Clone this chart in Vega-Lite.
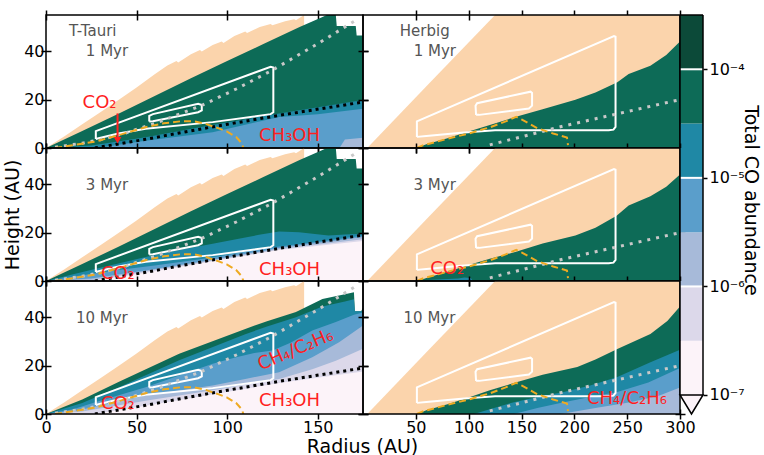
{
  "$schema": "https://vega.github.io/schema/vega-lite/v6.json",
  "background": "white",
  "padding": {"left": 2, "top": 8, "right": 4, "bottom": 0},
  "config": {
    "font": "DejaVu Sans",
    "view": {"stroke": "black", "strokeWidth": 1.5},
    "style": {"cell": {"strokeForeground": true}},
    "mark": {"invalid": "filter"},
    "axis": {
      "domain": false, "grid": false, "tickSize": 10, "tickWidth": 1.5, "tickColor": "black", "offset": -5,
      "labelFont": "DejaVu Sans", "labelFontSize": 16, "labelColor": "black", "labelPadding": 1,
      "labelFlush": false, "labelOverlap": false,
      "titleFont": "DejaVu Sans", "titleFontSize": 19, "titleFontWeight": "normal", "titleColor": "black", "zindex": 1
    },
    "axisX": {"labelPadding": 0},
    "axisY": {"labelPadding": -3}
  },
  "datasets": {
    "peL": [{"r":0,"h":0},{"r":10,"h":4.8},{"r":20,"h":9.8},{"r":30,"h":14.8},{"r":40,"h":19.8},{"r":50,"h":25},{"r":60,"h":30.5},{"r":67,"h":34.1},{"r":72,"h":36},{"r":73,"h":35.4},{"r":80,"h":38.8},{"r":85,"h":40.5},{"r":86,"h":39.9},{"r":92,"h":42.6},{"r":97,"h":44},{"r":98,"h":43.4},{"r":104,"h":46.3},{"r":110,"h":48.2},{"r":111,"h":47.6},{"r":118,"h":50},{"r":124,"h":51.3},{"r":125,"h":50.8},{"r":132,"h":52.4},{"r":137,"h":53.2},{"r":138,"h":52.8},{"r":141,"h":54.3},{"r":142.5,"h":55}],
    "peR": [{"r":4,"h":0},{"r":60,"h":25.5},{"r":125,"h":55},{"r":300,"h":55}],
    "gL": [{"r":0,"h":0},{"r":20,"h":7},{"r":40,"h":14.2},{"r":60,"h":21.5},{"r":80,"h":28.8},{"r":100,"h":36},{"r":120,"h":43},{"r":140,"h":50},{"r":152,"h":54},{"r":155,"h":55},{"r":160,"h":55},{"r":160.5,"h":50.5},{"r":171,"h":50.5},{"r":171.5,"h":46.5},{"r":175,"h":46.5}],
    "L1t": [{"r":0,"h":0},{"r":25,"h":1},{"r":55,"h":4.4},{"r":90,"h":9.3},{"r":128.7,"h":14.3},{"r":175,"h":19.8}],
    "L1b": [{"r":28,"h":0},{"r":55,"h":3},{"r":92,"h":6.5},{"r":128.7,"h":12.8},{"r":150,"h":14},{"r":175,"h":16.2}],
    "L1l": [{"r":162,"h":0},{"r":165,"h":3.5},{"r":175,"h":4.2}],
    "L2t": [{"r":0,"h":0},{"r":15,"h":2.8},{"r":27.6,"h":5.1},{"r":55,"h":9.9},{"r":75,"h":13},{"r":92,"h":15.4},{"r":110,"h":18},{"r":117.6,"h":19.1},{"r":128.7,"h":20.5},{"r":139.7,"h":20.2},{"r":156,"h":18.8},{"r":165,"h":19.2},{"r":175,"h":19.5}],
    "L2b": [{"r":0,"h":0},{"r":20,"h":2.4},{"r":40,"h":4.6},{"r":60,"h":6.4},{"r":90,"h":9.5},{"r":120,"h":13.4},{"r":150,"h":16.2},{"r":175,"h":18.8}],
    "L2l": [{"r":0,"h":0},{"r":25,"h":1},{"r":55,"h":4.3},{"r":90,"h":8.6},{"r":128.7,"h":13.6},{"r":175,"h":18.2}],
    "L2p": [{"r":0,"h":0},{"r":26,"h":0.5},{"r":55,"h":3.9},{"r":90,"h":8.2},{"r":128.7,"h":13.1},{"r":175,"h":17.3}],
    "L2v": [{"r":0,"h":0},{"r":27,"h":0.2},{"r":55,"h":3.4},{"r":90,"h":7.9},{"r":128.7,"h":12.8},{"r":175,"h":16.5}],
    "L3g": [{"r":0,"h":0},{"r":20,"h":6},{"r":40,"h":13.2},{"r":73.5,"h":24.9},{"r":110,"h":35.2},{"r":122,"h":38.4},{"r":138,"h":42.2},{"r":152.6,"h":47.6},{"r":165,"h":49.5},{"r":170,"h":50.3},{"r":170.5,"h":42.5},{"r":174,"h":42.5},{"r":175,"h":44}],
    "L3t": [{"r":0,"h":0},{"r":20,"h":4.5},{"r":40,"h":11},{"r":73.5,"h":22.2},{"r":110,"h":33},{"r":122,"h":36.2},{"r":138,"h":40},{"r":152.6,"h":44.5},{"r":165,"h":46.5},{"r":170,"h":47.5},{"r":170.5,"h":42.5},{"r":175,"h":42.5}],
    "L3b": [{"r":0,"h":0},{"r":15,"h":2},{"r":27.6,"h":5},{"r":55,"h":11.1},{"r":73.5,"h":15.9},{"r":92,"h":20.8},{"r":105,"h":23.5},{"r":115,"h":25.2},{"r":125,"h":26.3},{"r":135,"h":29.5},{"r":147,"h":34.5},{"r":160,"h":38},{"r":170,"h":41},{"r":175,"h":42}],
    "L3l": [{"r":0,"h":0},{"r":15,"h":1},{"r":55,"h":7.7},{"r":92,"h":11.8},{"r":110,"h":14.5},{"r":128.7,"h":17.3},{"r":147,"h":23.5},{"r":161.8,"h":29.7},{"r":175,"h":36.6}],
    "L3p": [{"r":0,"h":0},{"r":20,"h":1},{"r":55,"h":5.5},{"r":92,"h":9.8},{"r":128.7,"h":14.5},{"r":147,"h":18.5},{"r":160,"h":22},{"r":175,"h":27}],
    "L3v": [{"r":0,"h":0},{"r":27,"h":0},{"r":55,"h":3.4},{"r":90,"h":7.9},{"r":128.7,"h":12.8},{"r":175,"h":17.6}],
    "R1g": [{"r":50,"h":0},{"r":60,"h":1.5},{"r":80,"h":4},{"r":100,"h":6.8},{"r":120,"h":9.5},{"r":144,"h":12.8},{"r":170,"h":16},{"r":201,"h":20},{"r":220,"h":23},{"r":240.7,"h":27.2},{"r":251.4,"h":30.6},{"r":272,"h":34},{"r":287,"h":38.5},{"r":300,"h":44}],
    "R2g": [{"r":52,"h":0},{"r":60,"h":1.2},{"r":80,"h":3.8},{"r":100,"h":6.6},{"r":120,"h":9.2},{"r":144,"h":12},{"r":170,"h":15.5},{"r":201,"h":18.8},{"r":220,"h":22},{"r":240,"h":27},{"r":251.4,"h":31.2},{"r":272,"h":35},{"r":287,"h":39},{"r":300,"h":44}],
    "R2t": [{"r":52,"h":0},{"r":60,"h":0.4},{"r":90,"h":1},{"r":96,"h":1.4},{"r":102,"h":1.2},{"r":104,"h":0}],
    "R3g": [{"r":51,"h":0},{"r":60,"h":1.5},{"r":80,"h":4},{"r":100,"h":6.8},{"r":120,"h":9.8},{"r":146,"h":13.2},{"r":170,"h":16.2},{"r":202.8,"h":19.4},{"r":220,"h":22.5},{"r":240.7,"h":26.9},{"r":272,"h":33.1},{"r":288,"h":38.5},{"r":300,"h":44.5}],
    "R3t": [{"r":105,"h":0},{"r":120,"h":2},{"r":142.8,"h":4.9},{"r":165,"h":7},{"r":190,"h":9.1},{"r":215,"h":11.8},{"r":240.7,"h":15.3},{"r":272,"h":21.4},{"r":300,"h":26.6}],
    "R3b": [{"r":142.8,"h":0},{"r":165,"h":2.5},{"r":190,"h":4.9},{"r":215,"h":7},{"r":240.7,"h":9.1},{"r":270,"h":13},{"r":300,"h":19}],
    "R3l": [{"r":187,"h":0},{"r":220,"h":2.5},{"r":253,"h":4.9},{"r":280,"h":7.5},{"r":300,"h":11}],
    "greyL": [{"r":5,"h":0.3},{"r":20,"h":2},{"r":30,"h":3.4},{"r":44,"h":6.2},{"r":61,"h":10.4},{"r":86,"h":17.6},{"r":105,"h":24.4},{"r":124,"h":31.8},{"r":150,"h":43.1},{"r":172,"h":53.3}],
    "blackL": [{"r":27,"h":0},{"r":55,"h":3.6},{"r":90,"h":8.5},{"r":128.7,"h":13.5},{"r":175,"h":19}],
    "orangeL": [{"r":5,"h":0},{"r":15,"h":1.2},{"r":27.6,"h":2.7},{"r":40,"h":5.3},{"r":55,"h":8.6},{"r":65,"h":10.2},{"r":75,"h":11.1},{"r":82,"h":11},{"r":88,"h":10},{"r":95,"h":8.2},{"r":100,"h":6.8},{"r":105,"h":4.5},{"r":108,"h":2},{"r":109,"h":0}],
    "polyL": [
      {"s":"o","i":0,"r":27.5,"h":3.7},{"s":"o","i":1,"r":27.5,"h":7},{"s":"o","i":2,"r":124,"h":33.6},{"s":"o","i":3,"r":125.5,"h":33.3},{"s":"o","i":4,"r":125.5,"h":14.8},{"s":"o","i":5,"r":124,"h":14},{"s":"o","i":6,"r":92,"h":10.7},{"s":"o","i":7,"r":55,"h":8},{"s":"o","i":8,"r":40,"h":6},{"s":"o","i":9,"r":29,"h":4},{"s":"o","i":10,"r":27.5,"h":3.7},
      {"s":"n","i":0,"r":57,"h":11},{"s":"n","i":1,"r":57,"h":13.3},{"s":"n","i":2,"r":59,"h":14},{"s":"n","i":3,"r":84,"h":18.3},{"s":"n","i":4,"r":86,"h":17.8},{"s":"n","i":5,"r":86,"h":15.6},{"s":"n","i":6,"r":84,"h":14.8},{"s":"n","i":7,"r":59,"h":11.1},{"s":"n","i":8,"r":57,"h":11}
    ],
    "greyR": [{"r":120,"h":1.3},{"r":190,"h":9.1},{"r":300,"h":20}],
    "orangeR": [{"r":51,"h":0},{"r":56,"h":1},{"r":80,"h":3.8},{"r":100,"h":6},{"r":121,"h":8.7},{"r":135,"h":11},{"r":145,"h":12.9},{"r":150,"h":11.8},{"r":165,"h":8.2},{"r":180,"h":6},{"r":193,"h":4.3},{"r":194,"h":1.2}],
    "polyR": [
      {"s":"o","i":0,"r":51,"h":4.6},{"s":"o","i":1,"r":51,"h":11},{"s":"o","i":2,"r":237.5,"h":46.3},{"s":"o","i":3,"r":239,"h":46},{"s":"o","i":4,"r":239,"h":8.7},{"s":"o","i":5,"r":237,"h":7.6},{"s":"o","i":6,"r":232.5,"h":7.3},{"s":"o","i":7,"r":125,"h":7.3},{"s":"o","i":8,"r":93,"h":6.3},{"s":"o","i":9,"r":60,"h":5},{"s":"o","i":10,"r":51,"h":4.6},
      {"s":"n","i":0,"r":107,"h":13.7},{"s":"n","i":1,"r":106.5,"h":17.5},{"s":"n","i":2,"r":108,"h":18.5},{"s":"n","i":3,"r":158.6,"h":23.3},{"s":"n","i":4,"r":160,"h":22.8},{"s":"n","i":5,"r":160,"h":17.5},{"s":"n","i":6,"r":157,"h":16.3},{"s":"n","i":7,"r":110,"h":13.7},{"s":"n","i":8,"r":107,"h":13.7}
    ],
    "cbar": [
      {"k":"c1","lo":1e-7,"hi":3.1623e-7},{"k":"c2","lo":3.1623e-7,"hi":1e-6},
      {"k":"c3","lo":1e-6,"hi":3.1623e-6},{"k":"c4","lo":3.1623e-6,"hi":1e-5},
      {"k":"c5","lo":1e-5,"hi":3.1623e-5},{"k":"c6","lo":3.1623e-5,"hi":1e-4},
      {"k":"c7","lo":1e-4,"hi":3.1623e-4}
    ]
  },
  "columns": 3,
  "spacing": 0,
  "bounds": "flush",
  "concat": [
    {
      "width": 317, "height": 133,
      "encoding": {"x": {"field": "r", "type": "quantitative", "scale": {"domain": [0, 175], "nice": false, "zero": false}, "axis": null}},
      "resolve": {"axis": {"x": "independent", "y": "independent"}},
      "layer": [
        {"data": {"name": "peL"}, "mark": {"type": "area", "color": "#fbd4ac", "clip": true},
         "encoding": {"x": {"field": "r", "type": "quantitative", "scale": {"domain": [0, 175], "nice": false, "zero": false}, "axis": {"orient": "bottom", "values": [0, 50, 100, 150], "labels": false, "title": null}},
                      "y": {"field": "h", "type": "quantitative", "scale": {"domain": [0, 55], "nice": false, "zero": false}, "axis": {"orient": "left", "values": [0, 20, 40], "title": null}}}},
        {"data": {"name": "gL"}, "mark": {"type": "area", "color": "#0d6b57", "clip": true},
         "encoding": {"x": {"field": "r", "type": "quantitative", "axis": {"orient": "top", "values": [0, 50, 100, 150], "labels": false, "title": null}},
                      "y": {"field": "h", "type": "quantitative", "axis": {"orient": "right", "values": [0, 20, 40], "labels": false, "title": null}}}},
        {"data": {"name": "L1t"}, "mark": {"type": "area", "color": "#1f88a5", "clip": true}, "encoding": {"y": {"field": "h", "type": "quantitative", "axis": null}}},
        {"data": {"name": "L1b"}, "mark": {"type": "area", "color": "#5a9ecb", "clip": true}, "encoding": {"y": {"field": "h", "type": "quantitative", "axis": null}}},
        {"data": {"name": "L1l"}, "mark": {"type": "area", "color": "#a7bad9", "clip": true}, "encoding": {"y": {"field": "h", "type": "quantitative", "axis": null}}},
        {"data": {"name": "polyL"}, "mark": {"type": "line", "color": "white", "strokeWidth": 2, "clip": true}, "encoding": {"y": {"field": "h", "type": "quantitative", "axis": null}, "detail": {"field": "s"}, "order": {"field": "i", "type": "quantitative"}}},
        {"data": {"name": "greyL"}, "mark": {"type": "line", "color": "#c8c8c8", "strokeWidth": 3, "strokeDash": [3, 6], "clip": true}, "encoding": {"y": {"field": "h", "type": "quantitative", "axis": null}}},
        {"data": {"name": "blackL"}, "mark": {"type": "line", "color": "black", "strokeWidth": 3, "strokeDash": [3, 4], "clip": true}, "encoding": {"y": {"field": "h", "type": "quantitative", "axis": null}}},
        {"data": {"name": "orangeL"}, "mark": {"type": "line", "color": "#eeaa22", "strokeWidth": 2, "strokeDash": [7, 4], "clip": true}, "encoding": {"y": {"field": "h", "type": "quantitative", "axis": null}}},
        {"data": {"values": [{"r": 12.7, "h": 48.2, "t": "T-Tauri"}, {"r": 22, "h": 40, "t": "1 Myr"}]},
         "mark": {"type": "text", "align": "left", "baseline": "middle", "fontSize": 15, "color": "#555555", "clip": true},
         "encoding": {"y": {"field": "h", "type": "quantitative", "axis": null}, "text": {"field": "t"}}},
        {"data": {"values": [{"r": 20.2, "h": 16.5, "t": "CO₂"}, {"r": 117.6, "h": 2.8, "t": "CH₃OH"}]},
         "mark": {"type": "text", "align": "left", "baseline": "alphabetic", "fontSize": 18, "color": "#ff1f1f", "clip": true},
         "encoding": {"y": {"field": "h", "type": "quantitative", "axis": null}, "text": {"field": "t"}}},
        {"data": {"values": [{"r": 39.5, "h": 14.3, "h2": 4.5}]},
         "mark": {"type": "rule", "color": "#ff1f1f", "strokeWidth": 2},
         "encoding": {"y": {"field": "h", "type": "quantitative", "axis": null}, "y2": {"field": "h2"}}},
        {"data": {"values": [{"r": 39.5, "h": 3.2}]},
         "mark": {"type": "point", "shape": "triangle-down", "size": 60, "filled": true, "color": "#ff1f1f", "opacity": 1},
         "encoding": {"y": {"field": "h", "type": "quantitative", "axis": null}}}
      ]
    },
    {
      "width": 317, "height": 133,
      "encoding": {"x": {"field": "r", "type": "quantitative", "scale": {"domain": [0, 300], "nice": false, "zero": false}, "axis": null}},
      "resolve": {"axis": {"x": "independent", "y": "independent"}},
      "layer": [
        {"data": {"name": "peR"}, "mark": {"type": "area", "color": "#fbd4ac", "clip": true},
         "encoding": {"x": {"field": "r", "type": "quantitative", "scale": {"domain": [0, 300], "nice": false, "zero": false}, "axis": {"orient": "bottom", "values": [50, 100, 150, 200, 250, 300], "labels": false, "title": null}},
                      "y": {"field": "h", "type": "quantitative", "scale": {"domain": [0, 55], "nice": false, "zero": false}, "axis": {"orient": "left", "values": [0, 20, 40], "labels": false, "title": null}}}},
        {"data": {"name": "R1g"}, "mark": {"type": "area", "color": "#0d6b57", "clip": true},
         "encoding": {"x": {"field": "r", "type": "quantitative", "axis": {"orient": "top", "values": [50, 100, 150, 200, 250, 300], "labels": false, "title": null}},
                      "y": {"field": "h", "type": "quantitative", "axis": {"orient": "right", "values": [0, 20, 40], "labels": false, "title": null}}}},
        {"data": {"name": "polyR"}, "mark": {"type": "line", "color": "white", "strokeWidth": 2, "clip": true}, "encoding": {"y": {"field": "h", "type": "quantitative", "axis": null}, "detail": {"field": "s"}, "order": {"field": "i", "type": "quantitative"}}},
        {"data": {"name": "greyR"}, "mark": {"type": "line", "color": "#c8c8c8", "strokeWidth": 3, "strokeDash": [3, 6], "clip": true}, "encoding": {"y": {"field": "h", "type": "quantitative", "axis": null}}},
        {"data": {"name": "orangeR"}, "mark": {"type": "line", "color": "#eeaa22", "strokeWidth": 2, "strokeDash": [7, 4], "clip": true}, "encoding": {"y": {"field": "h", "type": "quantitative", "axis": null}}},
        {"data": {"values": [{"r": 34.8, "h": 48.2, "t": "Herbig"}, {"r": 48, "h": 40, "t": "1 Myr"}]},
         "mark": {"type": "text", "align": "left", "baseline": "middle", "fontSize": 15, "color": "#555555", "clip": true},
         "encoding": {"y": {"field": "h", "type": "quantitative", "axis": null}, "text": {"field": "t"}}}
      ]
    },
    {
      "width": 23, "height": 133, "view": {"stroke": null},
      "layer": [
        {"data": {"name": "cbar"}, "mark": {"type": "rect", "clip": true},
         "encoding": {
           "x": {"datum": 0, "type": "quantitative", "scale": {"domain": [0, 1], "nice": false, "zero": false}, "axis": null},
           "x2": {"datum": 1},
           "y": {"field": "lo", "type": "quantitative", "scale": {"type": "log", "domain": [1.8836e-5, 3.1623e-4], "nice": false},
                 "axis": {"orient": "right", "values": [1e-4], "offset": 0, "tickSize": 4, "labelPadding": 2,
                          "labelExpr": "datum.value > 5e-5 ? '10⁻⁴' : datum.value > 5e-6 ? '10⁻⁵' : datum.value > 5e-7 ? '10⁻⁶' : '10⁻⁷'", "title": null}},
           "y2": {"field": "hi"},
           "color": {"field": "k", "type": "nominal", "scale": {"domain": ["c1", "c2", "c3", "c4", "c5", "c6", "c7"], "range": ["#fcf3f9", "#dcd8ea", "#a7bad9", "#5a9ecb", "#1f88a5", "#0d6b57", "#0c4a39"]}, "legend": null}
         }},
        {"data": {"values": [{"v": 1e-4}]},
         "mark": {"type": "rule", "color": "white", "strokeWidth": 2},
         "encoding": {"y": {"field": "v", "type": "quantitative"}}},
        {"data": {"values": [{"u": 0, "lo": 1.8836e-5, "hi": 3.1623e-4}, {"u": 1, "lo": 1.8836e-5, "hi": 3.1623e-4}]},
         "mark": {"type": "rule", "color": "black", "strokeWidth": 1.5},
         "encoding": {"x": {"field": "u", "type": "quantitative"}, "y": {"field": "lo", "type": "quantitative"}, "y2": {"field": "hi"}}},
        {"data": {"values": [{"v": 3.1623e-4}]},
         "mark": {"type": "rule", "color": "black", "strokeWidth": 1.5},
         "encoding": {"y": {"field": "v", "type": "quantitative"}}}
      ]
    },
    {
      "width": 317, "height": 133,
      "encoding": {"x": {"field": "r", "type": "quantitative", "scale": {"domain": [0, 175], "nice": false, "zero": false}, "axis": null}},
      "resolve": {"axis": {"x": "independent", "y": "independent"}},
      "layer": [
        {"data": {"name": "peL"}, "mark": {"type": "area", "color": "#fbd4ac", "clip": true},
         "encoding": {"x": {"field": "r", "type": "quantitative", "scale": {"domain": [0, 175], "nice": false, "zero": false}, "axis": {"orient": "bottom", "values": [0, 50, 100, 150], "labels": false, "title": null}},
                      "y": {"field": "h", "type": "quantitative", "scale": {"domain": [0, 55], "nice": false, "zero": false}, "axis": {"orient": "left", "values": [0, 20, 40], "title": "Height (AU)", "titlePadding": 1}}}},
        {"data": {"name": "gL"}, "mark": {"type": "area", "color": "#0d6b57", "clip": true},
         "encoding": {"x": {"field": "r", "type": "quantitative", "axis": {"orient": "top", "values": [0, 50, 100, 150], "labels": false, "title": null}},
                      "y": {"field": "h", "type": "quantitative", "axis": {"orient": "right", "values": [0, 20, 40], "labels": false, "title": null}}}},
        {"data": {"name": "L2t"}, "mark": {"type": "area", "color": "#1f88a5", "clip": true}, "encoding": {"y": {"field": "h", "type": "quantitative", "axis": null}}},
        {"data": {"name": "L2b"}, "mark": {"type": "area", "color": "#5a9ecb", "clip": true}, "encoding": {"y": {"field": "h", "type": "quantitative", "axis": null}}},
        {"data": {"name": "L2l"}, "mark": {"type": "area", "color": "#a7bad9", "clip": true}, "encoding": {"y": {"field": "h", "type": "quantitative", "axis": null}}},
        {"data": {"name": "L2p"}, "mark": {"type": "area", "color": "#dcd8ea", "clip": true}, "encoding": {"y": {"field": "h", "type": "quantitative", "axis": null}}},
        {"data": {"name": "L2v"}, "mark": {"type": "area", "color": "#fcf3f9", "clip": true}, "encoding": {"y": {"field": "h", "type": "quantitative", "axis": null}}},
        {"data": {"name": "polyL"}, "mark": {"type": "line", "color": "white", "strokeWidth": 2, "clip": true}, "encoding": {"y": {"field": "h", "type": "quantitative", "axis": null}, "detail": {"field": "s"}, "order": {"field": "i", "type": "quantitative"}}},
        {"data": {"name": "greyL"}, "mark": {"type": "line", "color": "#c8c8c8", "strokeWidth": 3, "strokeDash": [3, 6], "clip": true}, "encoding": {"y": {"field": "h", "type": "quantitative", "axis": null}}},
        {"data": {"name": "blackL"}, "mark": {"type": "line", "color": "black", "strokeWidth": 3, "strokeDash": [3, 4], "clip": true}, "encoding": {"y": {"field": "h", "type": "quantitative", "axis": null}}},
        {"data": {"name": "orangeL"}, "mark": {"type": "line", "color": "#eeaa22", "strokeWidth": 2, "strokeDash": [7, 4], "clip": true}, "encoding": {"y": {"field": "h", "type": "quantitative", "axis": null}}},
        {"data": {"values": [{"r": 22, "h": 39.8, "t": "3 Myr"}]},
         "mark": {"type": "text", "align": "left", "baseline": "middle", "fontSize": 15, "color": "#555555", "clip": true},
         "encoding": {"y": {"field": "h", "type": "quantitative", "axis": null}, "text": {"field": "t"}}},
        {"data": {"values": [{"r": 30.3, "h": 0.95, "t": "CO₂"}, {"r": 117.6, "h": 2.6, "t": "CH₃OH"}]},
         "mark": {"type": "text", "align": "left", "baseline": "alphabetic", "fontSize": 18, "color": "#ff1f1f", "clip": true},
         "encoding": {"y": {"field": "h", "type": "quantitative", "axis": null}, "text": {"field": "t"}}}
      ]
    },
    {
      "width": 317, "height": 133,
      "encoding": {"x": {"field": "r", "type": "quantitative", "scale": {"domain": [0, 300], "nice": false, "zero": false}, "axis": null}},
      "resolve": {"axis": {"x": "independent", "y": "independent"}},
      "layer": [
        {"data": {"name": "peR"}, "mark": {"type": "area", "color": "#fbd4ac", "clip": true},
         "encoding": {"x": {"field": "r", "type": "quantitative", "scale": {"domain": [0, 300], "nice": false, "zero": false}, "axis": {"orient": "bottom", "values": [50, 100, 150, 200, 250, 300], "labels": false, "title": null}},
                      "y": {"field": "h", "type": "quantitative", "scale": {"domain": [0, 55], "nice": false, "zero": false}, "axis": {"orient": "left", "values": [0, 20, 40], "labels": false, "title": null}}}},
        {"data": {"name": "R2g"}, "mark": {"type": "area", "color": "#0d6b57", "clip": true},
         "encoding": {"x": {"field": "r", "type": "quantitative", "axis": {"orient": "top", "values": [50, 100, 150, 200, 250, 300], "labels": false, "title": null}},
                      "y": {"field": "h", "type": "quantitative", "axis": {"orient": "right", "values": [0, 20, 40], "labels": false, "title": null}}}},
        {"data": {"name": "R2t"}, "mark": {"type": "area", "color": "#1f88a5", "clip": true}, "encoding": {"y": {"field": "h", "type": "quantitative", "axis": null}}},
        {"data": {"name": "polyR"}, "mark": {"type": "line", "color": "white", "strokeWidth": 2, "clip": true}, "encoding": {"y": {"field": "h", "type": "quantitative", "axis": null}, "detail": {"field": "s"}, "order": {"field": "i", "type": "quantitative"}}},
        {"data": {"name": "greyR"}, "mark": {"type": "line", "color": "#c8c8c8", "strokeWidth": 3, "strokeDash": [3, 6], "clip": true}, "encoding": {"y": {"field": "h", "type": "quantitative", "axis": null}}},
        {"data": {"name": "orangeR"}, "mark": {"type": "line", "color": "#eeaa22", "strokeWidth": 2, "strokeDash": [7, 4], "clip": true}, "encoding": {"y": {"field": "h", "type": "quantitative", "axis": null}}},
        {"data": {"values": [{"r": 47.8, "h": 39.8, "t": "3 Myr"}]},
         "mark": {"type": "text", "align": "left", "baseline": "middle", "fontSize": 15, "color": "#555555", "clip": true},
         "encoding": {"y": {"field": "h", "type": "quantitative", "axis": null}, "text": {"field": "t"}}},
        {"data": {"values": [{"r": 63.6, "h": 3, "t": "CO₂"}]},
         "mark": {"type": "text", "align": "left", "baseline": "alphabetic", "fontSize": 18, "color": "#ff1f1f", "clip": true},
         "encoding": {"y": {"field": "h", "type": "quantitative", "axis": null}, "text": {"field": "t"}}}
      ]
    },
    {
      "width": 23, "height": 133, "view": {"stroke": null},
      "layer": [
        {"data": {"name": "cbar"}, "mark": {"type": "rect", "clip": true},
         "encoding": {
           "x": {"datum": 0, "type": "quantitative", "scale": {"domain": [0, 1], "nice": false, "zero": false}, "axis": null},
           "x2": {"datum": 1},
           "y": {"field": "lo", "type": "quantitative", "scale": {"type": "log", "domain": [1.122e-6, 1.8836e-5], "nice": false},
                 "axis": {"orient": "right", "values": [1e-5], "offset": 0, "tickSize": 4, "labelPadding": 2,
                          "labelExpr": "datum.value > 5e-5 ? '10⁻⁴' : datum.value > 5e-6 ? '10⁻⁵' : datum.value > 5e-7 ? '10⁻⁶' : '10⁻⁷'",
                          "title": "Total CO abundance", "titleFontSize": 19, "titlePadding": -4, "titleY": 52}},
           "y2": {"field": "hi"},
           "color": {"field": "k", "type": "nominal", "scale": {"domain": ["c1", "c2", "c3", "c4", "c5", "c6", "c7"], "range": ["#fcf3f9", "#dcd8ea", "#a7bad9", "#5a9ecb", "#1f88a5", "#0d6b57", "#0c4a39"]}, "legend": null}
         }},
        {"data": {"values": [{"v": 1e-5}]},
         "mark": {"type": "rule", "color": "white", "strokeWidth": 2},
         "encoding": {"y": {"field": "v", "type": "quantitative"}}},
        {"data": {"values": [{"u": 0, "lo": 1.122e-6, "hi": 1.8836e-5}, {"u": 1, "lo": 1.122e-6, "hi": 1.8836e-5}]},
         "mark": {"type": "rule", "color": "black", "strokeWidth": 1.5},
         "encoding": {"x": {"field": "u", "type": "quantitative"}, "y": {"field": "lo", "type": "quantitative"}, "y2": {"field": "hi"}}}
      ]
    },
    {
      "width": 317, "height": 133,
      "encoding": {"x": {"field": "r", "type": "quantitative", "scale": {"domain": [0, 175], "nice": false, "zero": false}, "axis": null}},
      "resolve": {"axis": {"x": "independent", "y": "independent"}},
      "layer": [
        {"data": {"name": "peL"}, "mark": {"type": "area", "color": "#fbd4ac", "clip": true},
         "encoding": {"x": {"field": "r", "type": "quantitative", "scale": {"domain": [0, 175], "nice": false, "zero": false}, "axis": {"orient": "bottom", "values": [0, 50, 100, 150], "title": "Radius (AU)", "titleX": 316, "titleY": 43, "titleAlign": "center", "titleBaseline": "alphabetic"}},
                      "y": {"field": "h", "type": "quantitative", "scale": {"domain": [0, 55], "nice": false, "zero": false}, "axis": {"orient": "left", "values": [0, 20, 40], "title": null}}}},
        {"data": {"name": "L3g"}, "mark": {"type": "area", "color": "#0d6b57", "clip": true},
         "encoding": {"x": {"field": "r", "type": "quantitative", "axis": {"orient": "top", "values": [0, 50, 100, 150], "labels": false, "title": null}},
                      "y": {"field": "h", "type": "quantitative", "axis": {"orient": "right", "values": [0, 20, 40], "labels": false, "title": null}}}},
        {"data": {"name": "L3t"}, "mark": {"type": "area", "color": "#1f88a5", "clip": true}, "encoding": {"y": {"field": "h", "type": "quantitative", "axis": null}}},
        {"data": {"name": "L3b"}, "mark": {"type": "area", "color": "#5a9ecb", "clip": true}, "encoding": {"y": {"field": "h", "type": "quantitative", "axis": null}}},
        {"data": {"name": "L3l"}, "mark": {"type": "area", "color": "#a7bad9", "clip": true}, "encoding": {"y": {"field": "h", "type": "quantitative", "axis": null}}},
        {"data": {"name": "L3p"}, "mark": {"type": "area", "color": "#dcd8ea", "clip": true}, "encoding": {"y": {"field": "h", "type": "quantitative", "axis": null}}},
        {"data": {"name": "L3v"}, "mark": {"type": "area", "color": "#fcf3f9", "clip": true}, "encoding": {"y": {"field": "h", "type": "quantitative", "axis": null}}},
        {"data": {"name": "polyL"}, "mark": {"type": "line", "color": "white", "strokeWidth": 2, "clip": true}, "encoding": {"y": {"field": "h", "type": "quantitative", "axis": null}, "detail": {"field": "s"}, "order": {"field": "i", "type": "quantitative"}}},
        {"data": {"name": "greyL"}, "mark": {"type": "line", "color": "#c8c8c8", "strokeWidth": 3, "strokeDash": [3, 6], "clip": true}, "encoding": {"y": {"field": "h", "type": "quantitative", "axis": null}}},
        {"data": {"name": "blackL"}, "mark": {"type": "line", "color": "black", "strokeWidth": 3, "strokeDash": [3, 4], "clip": true}, "encoding": {"y": {"field": "h", "type": "quantitative", "axis": null}}},
        {"data": {"name": "orangeL"}, "mark": {"type": "line", "color": "#eeaa22", "strokeWidth": 2, "strokeDash": [7, 4], "clip": true}, "encoding": {"y": {"field": "h", "type": "quantitative", "axis": null}}},
        {"data": {"values": [{"r": 16.5, "h": 39.6, "t": "10 Myr"}]},
         "mark": {"type": "text", "align": "left", "baseline": "middle", "fontSize": 15, "color": "#555555", "clip": true},
         "encoding": {"y": {"field": "h", "type": "quantitative", "axis": null}, "text": {"field": "t"}}},
        {"data": {"values": [{"r": 30.3, "h": 1.9, "t": "CO₂"}, {"r": 117.6, "h": 3.3, "t": "CH₃OH"}]},
         "mark": {"type": "text", "align": "left", "baseline": "alphabetic", "fontSize": 18, "color": "#ff1f1f", "clip": true},
         "encoding": {"y": {"field": "h", "type": "quantitative", "axis": null}, "text": {"field": "t"}}},
        {"data": {"values": [{"r": 118.6, "h": 18, "t": "CH₄/C₂H₆"}]},
         "mark": {"type": "text", "align": "left", "baseline": "alphabetic", "fontSize": 18, "angle": -23, "color": "#ff1f1f", "clip": true},
         "encoding": {"y": {"field": "h", "type": "quantitative", "axis": null}, "text": {"field": "t"}}}
      ]
    },
    {
      "width": 317, "height": 133,
      "encoding": {"x": {"field": "r", "type": "quantitative", "scale": {"domain": [0, 300], "nice": false, "zero": false}, "axis": null}},
      "resolve": {"axis": {"x": "independent", "y": "independent"}},
      "layer": [
        {"data": {"name": "peR"}, "mark": {"type": "area", "color": "#fbd4ac", "clip": true},
         "encoding": {"x": {"field": "r", "type": "quantitative", "scale": {"domain": [0, 300], "nice": false, "zero": false}, "axis": {"orient": "bottom", "values": [50, 100, 150, 200, 250, 300], "title": null}},
                      "y": {"field": "h", "type": "quantitative", "scale": {"domain": [0, 55], "nice": false, "zero": false}, "axis": {"orient": "left", "values": [0, 20, 40], "labels": false, "title": null}}}},
        {"data": {"name": "R3g"}, "mark": {"type": "area", "color": "#0d6b57", "clip": true},
         "encoding": {"x": {"field": "r", "type": "quantitative", "axis": {"orient": "top", "values": [50, 100, 150, 200, 250, 300], "labels": false, "title": null}},
                      "y": {"field": "h", "type": "quantitative", "axis": {"orient": "right", "values": [0, 20, 40], "labels": false, "title": null}}}},
        {"data": {"name": "R3t"}, "mark": {"type": "area", "color": "#1f88a5", "clip": true}, "encoding": {"y": {"field": "h", "type": "quantitative", "axis": null}}},
        {"data": {"name": "R3b"}, "mark": {"type": "area", "color": "#5a9ecb", "clip": true}, "encoding": {"y": {"field": "h", "type": "quantitative", "axis": null}}},
        {"data": {"name": "R3l"}, "mark": {"type": "area", "color": "#a7bad9", "clip": true}, "encoding": {"y": {"field": "h", "type": "quantitative", "axis": null}}},
        {"data": {"name": "polyR"}, "mark": {"type": "line", "color": "white", "strokeWidth": 2, "clip": true}, "encoding": {"y": {"field": "h", "type": "quantitative", "axis": null}, "detail": {"field": "s"}, "order": {"field": "i", "type": "quantitative"}}},
        {"data": {"name": "greyR"}, "mark": {"type": "line", "color": "#c8c8c8", "strokeWidth": 3, "strokeDash": [3, 6], "clip": true}, "encoding": {"y": {"field": "h", "type": "quantitative", "axis": null}}},
        {"data": {"name": "orangeR"}, "mark": {"type": "line", "color": "#eeaa22", "strokeWidth": 2, "strokeDash": [7, 4], "clip": true}, "encoding": {"y": {"field": "h", "type": "quantitative", "axis": null}}},
        {"data": {"values": [{"r": 38.4, "h": 39.6, "t": "10 Myr"}]},
         "mark": {"type": "text", "align": "left", "baseline": "middle", "fontSize": 15, "color": "#555555", "clip": true},
         "encoding": {"y": {"field": "h", "type": "quantitative", "axis": null}, "text": {"field": "t"}}},
        {"data": {"values": [{"r": 212, "h": 4.25, "t": "CH₄/C₂H₆"}]},
         "mark": {"type": "text", "align": "left", "baseline": "alphabetic", "fontSize": 18, "color": "#ff1f1f", "clip": true},
         "encoding": {"y": {"field": "h", "type": "quantitative", "axis": null}, "text": {"field": "t"}}}
      ]
    },
    {
      "width": 23, "height": 133, "view": {"stroke": null},
      "layer": [
        {"data": {"name": "cbar"}, "mark": {"type": "rect", "clip": true},
         "encoding": {
           "x": {"datum": 0, "type": "quantitative", "scale": {"domain": [0, 1], "nice": false, "zero": false}, "axis": null},
           "x2": {"datum": 1},
           "y": {"field": "lo", "type": "quantitative", "scale": {"type": "log", "domain": [6.6834e-8, 1.122e-6], "nice": false},
                 "axis": {"orient": "right", "values": [1e-7, 1e-6], "offset": 0, "tickSize": 4, "labelPadding": 2,
                          "labelExpr": "datum.value > 5e-5 ? '10⁻⁴' : datum.value > 5e-6 ? '10⁻⁵' : datum.value > 5e-7 ? '10⁻⁶' : '10⁻⁷'", "title": null}},
           "y2": {"field": "hi"},
           "color": {"field": "k", "type": "nominal", "scale": {"domain": ["c1", "c2", "c3", "c4", "c5", "c6", "c7"], "range": ["#fcf3f9", "#dcd8ea", "#a7bad9", "#5a9ecb", "#1f88a5", "#0d6b57", "#0c4a39"]}, "legend": null}
         }},
        {"data": {"values": [{"v": 1e-6}]},
         "mark": {"type": "rule", "color": "white", "strokeWidth": 2},
         "encoding": {"y": {"field": "v", "type": "quantitative"}}},
        {"data": {"values": [{"u": 0, "lo": 1e-7, "hi": 1.122e-6}, {"u": 1, "lo": 1e-7, "hi": 1.122e-6}]},
         "mark": {"type": "rule", "color": "black", "strokeWidth": 1.5},
         "encoding": {"x": {"field": "u", "type": "quantitative"}, "y": {"field": "lo", "type": "quantitative"}, "y2": {"field": "hi"}}},
        {"data": {"values": [{"v": 8.1752e-8}]},
         "mark": {"type": "point", "shape": "M-1,-0.826L1,-0.826L0,0.826Z", "size": 529, "filled": true, "fill": "#fcf3f9", "stroke": "black", "strokeWidth": 1.5, "opacity": 1},
         "encoding": {"x": {"datum": 0.5, "type": "quantitative"}, "y": {"field": "v", "type": "quantitative"}}}
      ]
    }
  ]
}
